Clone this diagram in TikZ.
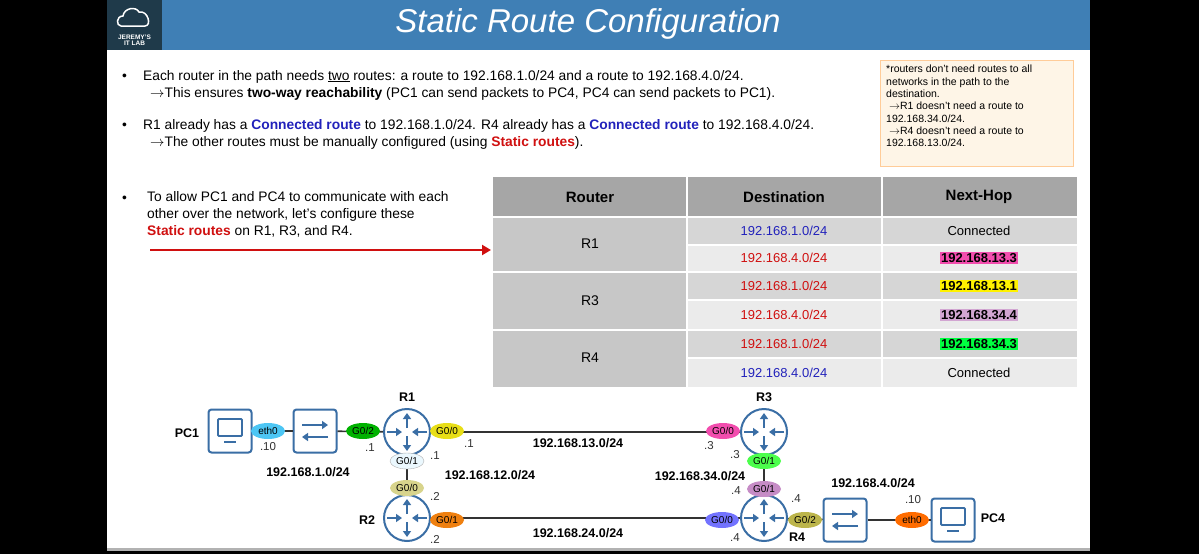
\documentclass[tikz,border=0pt]{standalone}
\usepackage{fontspec}
\setmainfont{Liberation Sans}
\usetikzlibrary{arrows.meta,shapes.geometric,calc}
\definecolor{hdr}{HTML}{3F7FB5}
\definecolor{logo}{HTML}{1F3A4A}
\definecolor{ico}{HTML}{3A6EA5}
\definecolor{cblue}{HTML}{2222BB}
\definecolor{cred}{HTML}{D01010}
\tikzset{
 body/.style={anchor=base west,font=\fontsize{13.8}{17}\selectfont,inner sep=0},
 cell/.style={font=\fontsize{13}{15}\selectfont,inner sep=0},
 hcell/.style={font=\fontsize{15}{17}\selectfont\bfseries,inner sep=0},
 lbl/.style={font=\fontsize{12.5}{14}\selectfont\bfseries,inner sep=0},
 ip/.style={font=\fontsize{11.5}{13}\selectfont,inner sep=0,text=black!80},
 port/.style={ellipse,draw=none,fill=#1,minimum width=34pt,minimum height=16pt,inner sep=0,font=\fontsize{10}{10}\selectfont},
 router/.style={circle,draw=ico,line width=2pt,fill=white,minimum size=46pt,inner sep=0},
 sqbox/.style={draw=ico,line width=2pt,rounded corners=3pt,fill=white,minimum size=43pt,inner sep=0},
 link/.style={line width=1.6pt,black!80},
 ra/.style={-{Triangle[length=6pt,width=8pt]},line width=2.6pt,ico},
 hl/.style={fill=#1,inner sep=1pt},
}
\newcommand{\routericon}[1]{%
 \draw[ra] ($(#1)+(0,-4)$) -- ++(0,-15);
 \draw[ra] ($(#1)+(0,4)$) -- ++(0,15);
 \draw[ra] ($(#1)+(-20,0)$) -- ++(15,0);
 \draw[ra] ($(#1)+(20,0)$) -- ++(-15,0);}
\newcommand{\switchicon}[1]{%
 \draw[ra] ($(#1)+(-13,-6)$) -- ++(26,0);
 \draw[ra] ($(#1)+(13,6)$) -- ++(-26,0);}
\newcommand{\pcicon}[1]{%
 \draw[ico,line width=1.8pt,rounded corners=1pt] ($(#1)+(-12,-12)$) rectangle ($(#1)+(12,5)$);
 \draw[ico,line width=1.8pt] ($(#1)+(-6,11)$) -- ($(#1)+(6,11)$);}
\begin{document}
\begin{tikzpicture}[x=1pt,y=-1pt]
\useasboundingbox (0,0) rectangle (1199,554);
\fill[black] (0,0) rectangle (1199,554);
\fill[white] (107,50) rectangle (1090,548);
\fill[gray!60] (107,548) rectangle (1090,551);
\fill[hdr] (107,0) rectangle (1090,50);
\fill[logo] (107,0) rectangle (162,50);
\node[text=white,font=\fontsize{6.5}{6.5}\selectfont\bfseries,align=center] (logot) at (134.5,40) {JEREMY'S\\[-1pt]IT LAB};
\draw[white,line width=1.5pt] (121,26) .. controls (116,26) and (116,16) .. (123,16) .. controls (124,8) and (136,6) .. (139,12) .. controls (148,10) and (152,26) .. (145,26) -- cycle;
\node[text=white,font=\fontsize{33}{33}\selectfont\itshape] (title) at (588,24) {Static Route Configuration};
% bullets
\node[body] (b1) at (122,80) {•};
\node[body] (t1) at (143,80) {Each router in the path needs \underline{two} routes: a route to 192.168.1.0/24 and a route to 192.168.4.0/24.};
\node[body] (t2) at (150,97) {$\rightarrow$This ensures \textbf{two-way reachability} (PC1 can send packets to PC4, PC4 can send packets to PC1).};
\node[body] (b2) at (122,129) {•};
\node[body] (t3) at (143,129) {R1 already has a \textcolor{cblue}{\textbf{Connected route}} to 192.168.1.0/24. R4 already has a \textcolor{cblue}{\textbf{Connected route}} to 192.168.4.0/24.};
\node[body] (t4) at (150,146) {$\rightarrow$The other routes must be manually configured (using \textcolor{cred}{\textbf{Static routes}}).};
\node[body] (b3) at (122,202) {•};
\node[body,align=left,anchor=north west] (t5) at (147,191) {To allow PC1 and PC4 to communicate with each\\other over the network, let's configure these\\\textcolor{cred}{\textbf{Static routes}} on R1, R3, and R4.};
\draw[cred,line width=2.5pt,-{Triangle[length=9pt,width=10pt]}] (150,250) -- (491,250);
% note
\draw[fill=yellow!12!orange!8,draw=orange!40] (880,60) rectangle (1073,166);
\node[anchor=north west,align=left,inner sep=0,font=\fontsize{10.5}{12.3}\selectfont] (note) at (886,65) {*routers don't need routes to all\\networks in the path to the\\destination.\\\ $\rightarrow$R1 doesn't need a route to\\192.168.34.0/24.\\\ $\rightarrow$R4 doesn't need a route to\\192.168.13.0/24.};
% table
\fill[black!35] (493,177) rectangle (1077,217);
\foreach \a/\b in {217/272,272/330,330/387} \fill[black!22] (493,\a) rectangle (687,\b);
\foreach \a/\b/\c in {217/245/black!16,245/272/black!8,272/300/black!16,300/330/black!8,330/358/black!16,358/387/black!8} \fill[\c] (687,\a) rectangle (1077,\b);
\draw[white,line width=1.2pt] (687,177) -- (687,387) (882,177) -- (882,387);
\foreach \y in {217,245,272,300,330,358} \draw[white,line width=1.2pt] (687,\y) -- (1077,\y);
\draw[white,line width=1.2pt] (493,217) -- (687,217) (493,272) -- (687,272) (493,330) -- (687,330);
\node[hcell] (h1) at (590,197) {Router};
\node[hcell] (h2) at (784,197) {Destination};
\node[hcell] (h3) at (979,197) {Next-Hop};
\node[cell,font=\fontsize{14}{15}\selectfont] (r1) at (590,244) {R1};
\node[cell,font=\fontsize{14}{15}\selectfont] (r3) at (590,301) {R3};
\node[cell,font=\fontsize{14}{15}\selectfont] (r4) at (590,358) {R4};
\node[cell,text=cblue] (d1) at (784,231) {192.168.1.0/24};
\node[cell,text=cred] (d2) at (784,258) {192.168.4.0/24};
\node[cell,text=cred] (d3) at (784,286) {192.168.1.0/24};
\node[cell,text=cred] (d4) at (784,315) {192.168.4.0/24};
\node[cell,text=cred] (d5) at (784,344) {192.168.1.0/24};
\node[cell,text=cblue] (d6) at (784,373) {192.168.4.0/24};
\node[cell] (n1) at (979,231) {Connected};
\node[cell,hl=magenta!70] (n2) at (979,258) {\textbf{192.168.13.3}};
\node[cell,hl=yellow] (n3) at (979,286) {\textbf{192.168.13.1}};
\node[cell,hl=violet!35] (n4) at (979,315) {\textbf{192.168.34.4}};
\node[cell,hl=green!75!cyan] (n5) at (979,344) {\textbf{192.168.34.3}};
\node[cell] (n6) at (979,373) {Connected};
% network
\node[sqbox] (pc1) at (230,431) {};
\node[sqbox] (sw1) at (315,431) {};
\node[router] (R1) at (407,432) {};
\node[router] (R3) at (764,432) {};
\node[router] (R2) at (407,518) {};
\node[router] (R4) at (764,518) {};
\node[sqbox] (sw4) at (845,520) {};
\node[sqbox] (pc4) at (953,520) {};
\draw[link] (pc1) -- (sw1);
\draw[link] (sw1) -- (R1);
\draw[link] (R1) -- (R3);
\draw[link] (R1) -- (R2);
\draw[link] (R3) -- (R4);
\draw[link] (R2.east) -- (R4.west);
\draw[link] (R4) -- (sw4);
\draw[link] (sw4) -- (pc4);
\routericon{R1}\routericon{R2}\routericon{R3}\routericon{R4}
\switchicon{sw1}\switchicon{sw4}
\pcicon{pc1}\pcicon{pc4}
\node[port=cyan!70] (p1) at (268,431) {eth0};
\node[port=green!70!black] (p2) at (363,431) {G0/2};
\node[port=yellow!90!black] (p3) at (447,431) {G0/0};
\node[port=cyan!8,draw=black!30] (p4) at (407,461) {G0/1};
\node[port=olive!35] (p5) at (407,488) {G0/0};
\node[port=orange!75!brown] (p6) at (447,520) {G0/1};
\node[port=magenta!70] (p7) at (723,431) {G0/0};
\node[port=green!70] (p8) at (764,461) {G0/1};
\node[port=violet!45] (p9) at (764,489) {G0/1};
\node[port=blue!55] (p10) at (722,520) {G0/0};
\node[port=olive!60] (p11) at (805,520) {G0/2};
\node[port=orange!85!red] (p12) at (912,520) {eth0};
\node[lbl] (lpc1) at (187,433) {PC1};
\node[lbl] (lr1) at (407,397) {R1};
\node[lbl] (lr3) at (764,397) {R3};
\node[lbl] (lr2) at (367,520) {R2};
\node[lbl] (lr4) at (797,537) {R4};
\node[lbl] (lpc4) at (993,518) {PC4};
\node[lbl] (n11) at (308,472) {192.168.1.0/24};
\node[lbl] (n12) at (490,475) {192.168.12.0/24};
\node[lbl] (n13) at (578,443) {192.168.13.0/24};
\node[lbl] (n34) at (700,476) {192.168.34.0/24};
\node[lbl] (n44) at (873,483) {192.168.4.0/24};
\node[lbl] (n24) at (578,533) {192.168.24.0/24};
\node[ip] (i1) at (268,447) {.10};
\node[ip] (i2) at (370,448) {.1};
\node[ip] (i3) at (469,444) {.1};
\node[ip] (i4) at (435,456) {.1};
\node[ip] (i5) at (435,496) {.2};
\node[ip] (i6) at (435,539) {.2};
\node[ip] (i7) at (709,446) {.3};
\node[ip] (i8) at (735,455) {.3};
\node[ip] (i9) at (736,491) {.4};
\node[ip] (i10) at (796,499) {.4};
\node[ip] (i11) at (735,538) {.4};
\node[ip] (i12) at (913,500) {.10};
\end{tikzpicture}
\end{document}
